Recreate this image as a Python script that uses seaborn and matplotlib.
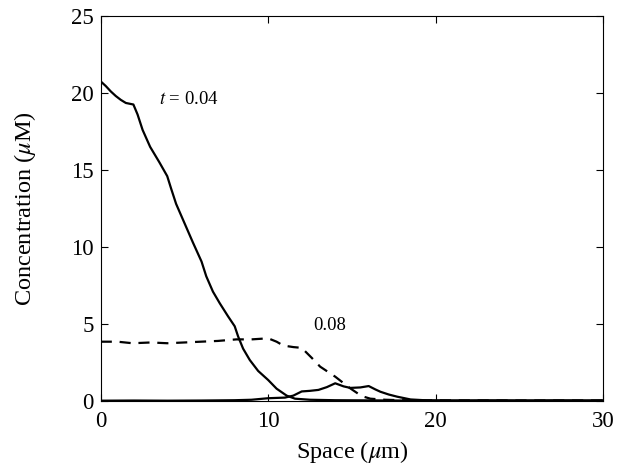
import matplotlib
matplotlib.use("Agg")
import matplotlib.pyplot as plt
import seaborn as sns
import pandas as pd

sns.set_theme(style="ticks")
plt.rcParams['font.family'] = ['Liberation Serif', 'DejaVu Serif']
plt.rcParams['mathtext.fontset'] = 'stix'
plt.rcParams['text.color'] = 'black'
plt.rcParams['axes.labelcolor'] = 'black'
plt.rcParams['xtick.color'] = 'black'
plt.rcParams['ytick.color'] = 'black'

# t = 0.04 (solid)
x_004 = [0, 0.3, 0.6, 0.9, 1.2, 1.5, 1.95, 2.2, 2.5, 2.95, 3.5, 3.97, 4.2, 4.5, 4.92, 5.5, 6.02,
         6.3, 6.7, 7.11, 7.6, 8.0, 8.2, 8.5, 8.9, 9.4, 10.0, 10.5, 11.1, 11.6, 12.5, 14, 16, 18,
         20, 22, 24, 26, 28, 30]
y_004 = [20.75, 20.45, 20.1, 19.8, 19.55, 19.35, 19.25, 18.6, 17.6, 16.5, 15.5, 14.6, 13.8, 12.8,
         11.75, 10.3, 9.05, 8.1, 7.1, 6.34, 5.5, 4.85, 4.2, 3.4, 2.66, 1.95, 1.36, 0.8, 0.35, 0.15,
         0.08, 0.05, 0.04, 0.03, 0.03, 0.02, 0.03, 0.02, 0.03, 0.02]

# t = 0.08 (dashed)
x_008 = [0, 1.0, 1.9, 3.0, 3.97, 5.0, 5.97, 7.0, 8.1, 9.0, 10.0, 10.5, 10.9, 11.5, 12.0, 12.6,
         13.1, 14.0, 14.9, 15.4, 15.7, 16.1, 17, 18, 20, 25, 30]
y_008 = [3.85, 3.85, 3.75, 3.8, 3.75, 3.8, 3.85, 3.9, 4.0, 4.0, 4.07, 3.85, 3.6, 3.5, 3.45, 2.8,
         2.23, 1.58, 0.82, 0.45, 0.28, 0.15, 0.08, 0.05, 0.04, 0.03, 0.03]

# later time (solid, near zero then small bump)
x_late = [0, 2, 4, 6, 8, 9, 10, 11, 11.5, 12, 12.5, 13, 13.5, 14, 14.5, 14.9, 15.5, 16.0, 16.4,
          16.7, 17.2, 17.7, 18.5, 19.5, 21, 23, 25, 27, 29, 30]
y_late = [0.02, 0.03, 0.02, 0.03, 0.05, 0.08, 0.18, 0.22, 0.35, 0.62, 0.66, 0.72, 0.9, 1.15,
          0.95, 0.85, 0.88, 0.97, 0.75, 0.6, 0.42, 0.28, 0.1, 0.04, 0.03, 0.04, 0.03, 0.04, 0.03, 0.04]

df = pd.concat([
    pd.DataFrame({'x': x_004, 'y': y_004, 'series': '0.04'}),
    pd.DataFrame({'x': x_008, 'y': y_008, 'series': '0.08'}),
    pd.DataFrame({'x': x_late, 'y': y_late, 'series': 'late'}),
])

fig = plt.figure(figsize=(6.18, 4.69), dpi=100)
ax = fig.add_axes([0.163, 0.145, 0.813, 0.821])

styles = {'0.04': '-', '0.08': (0, (5, 3.5)), 'late': '-'}
for name, sub in df.groupby('series', sort=False):
    sns.lineplot(data=sub, x='x', y='y', ax=ax, color='black', linewidth=1.6,
                 linestyle=styles[name], sort=False, estimator=None)

ax.set_xlim(0, 30)
ax.set_ylim(0, 25)
ax.set_xticks([0, 10, 20, 30])
ax.set_yticks([0, 5, 10, 15, 20, 25])
ax.tick_params(direction='in', top=True, right=True, labelsize=16.5, length=5, width=0.8)
ax.tick_params(axis='x', pad=7)
ax.tick_params(axis='y', pad=5)
for s in ax.spines.values():
    s.set_linewidth(0.8)
    s.set_color('black')

ax.set_xlabel(r'Space ($\mu$m)', fontsize=17.5, labelpad=5)
ax.set_ylabel(r'Concentration ($\mu$M)', fontsize=17.5, labelpad=24)

ax.text(3.5, 19.6, r'$t$ = 0.04', fontsize=13.5, va='center', ha='left')
ax.text(12.7, 4.9, '0.08', fontsize=13.5, va='center', ha='left')

fig.savefig('out.png', dpi=100)
